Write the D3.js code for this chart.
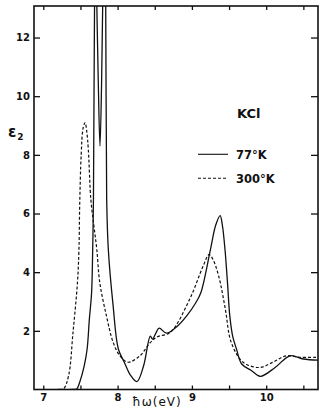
<!DOCTYPE html>
<html><head><meta charset="utf-8">
<script src="https://cdn.jsdelivr.net/npm/d3@7"></script>
<style>
html,body{margin:0;padding:0;background:#fff;}
svg{display:block;}
text{font-family:"DejaVu Sans",sans-serif;fill:#111;}
</style></head>
<body><svg id="chart" width="327" height="409"></svg>
<script>
// Data (77°K solid, 300°K dashed)
const solidX = [7.20,7.40,7.45,7.49,7.55,7.59,7.62,7.65,7.665,7.675,7.69,7.705,7.72,7.74,7.763,7.785,7.80,7.82,7.84,7.853,7.875,7.94,8.01,8.09,8.17,8.26,8.35,8.44,8.47,8.52,8.56,8.66,8.80,8.93,9.05,9.12,9.25,9.32,9.38,9.41,9.445,9.48,9.51,9.55,9.60,9.67,9.80,9.92,10.12,10.32,10.50,10.70];
const solidY = [0,0,0.02,0.25,0.8,1.38,2.4,3.3,4.8,6.5,13.2,16,13.2,10.5,8.3,10.5,13.2,16,13.2,6.5,4.78,2.85,1.38,0.93,0.5,0.27,0.81,1.82,1.72,1.95,2.09,1.92,2.15,2.51,2.95,3.3,4.78,5.6,5.93,5.6,4.78,3.6,2.51,1.8,1.38,0.87,0.65,0.45,0.75,1.15,1.04,1.0];
const dashX = [7.15,7.27,7.34,7.40,7.46,7.48,7.49,7.51,7.535,7.562,7.585,7.606,7.64,7.68,7.72,7.76,7.85,7.94,8.03,8.14,8.30,8.44,8.53,8.71,8.97,9.15,9.23,9.28,9.36,9.45,9.53,9.69,9.91,10.09,10.27,10.45,10.70];
const dashY = [0,0.02,0.47,1.95,3.65,4.78,6.3,8.0,8.9,9.1,8.8,8.18,6.48,5.6,4.78,3.65,2.51,1.61,1.15,0.93,1.15,1.6,1.79,1.95,3.08,4.2,4.6,4.45,3.87,2.74,1.6,0.93,0.75,0.93,1.15,1.1,1.1];
const yTicks = [2,4,6,8,10,12];
const xLabelTicks = [7,8,9,10];
const xMinorTicks = [7,7.5,8,8.5,9,9.5,10,10.5];
const legendLabels = ["77°K","300°K"];

const svg = d3.select("#chart");
const L=34, R=318, T=6, B=389.5;
const x = d3.scaleLinear().domain([6.875,10.697]).range([L,R]);
const y = d3.scaleLinear().domain([0,13.075]).range([B,T]);

svg.append("defs").append("clipPath").attr("id","clip")
  .append("rect").attr("x",L).attr("y",T).attr("width",R-L).attr("height",B-T);

const fmt = d => d3.format("d")(d);
const gB = svg.append("g").attr("transform",`translate(0,${B})`)
  .call(d3.axisBottom(x).tickValues(xMinorTicks).tickSize(-4).tickPadding(4)
    .tickFormat(d => xLabelTicks.includes(d) ? fmt(d) : ""));
const gT = svg.append("g").attr("transform",`translate(0,${T})`)
  .call(d3.axisTop(x).tickValues(xMinorTicks).tickSize(-4).tickFormat(""));
const gL = svg.append("g").attr("transform",`translate(${L},0)`)
  .call(d3.axisLeft(y).tickValues(yTicks).tickSize(-6).tickPadding(4).tickFormat(fmt));
const gR = svg.append("g").attr("transform",`translate(${R},0)`)
  .call(d3.axisRight(y).tickValues(yTicks).tickSize(-7).tickFormat(""));

[gB,gT,gL,gR].forEach(g=>{
  g.select(".domain").attr("stroke","#111").attr("stroke-width",1.6).attr("d", null);
  g.selectAll(".tick line").attr("stroke","#111").attr("stroke-width",1.3);
  g.selectAll(".tick text").attr("font-family","DejaVu Sans, sans-serif")
    .attr("font-weight","bold").attr("font-size",10).attr("fill","#111");
});
svg.append("rect").attr("x",L).attr("y",T).attr("width",R-L).attr("height",B-T)
  .attr("fill","none").attr("stroke","#111").attr("stroke-width",1.6);

const line = d3.line().x(d=>x(d[0])).y(d=>y(d[1])).curve(d3.curveCatmullRom.alpha(0.5));
const solid = solidX.map((v,i)=>[v,solidY[i]]);
const dash = dashX.map((v,i)=>[v,dashY[i]]);
const plot = svg.append("g").attr("clip-path","url(#clip)");
plot.append("path").attr("d",line(dash)).attr("fill","none").attr("stroke","#111")
  .attr("stroke-width",1.2).attr("stroke-dasharray","3,2");
plot.append("path").attr("d",line(solid)).attr("fill","none").attr("stroke","#111")
  .attr("stroke-width",1.3);

const eps = svg.append("text").attr("x",8).attr("y",137).attr("font-size",15).attr("font-weight","bold");
eps.append("tspan").text("ε");
eps.append("tspan").attr("font-size",9).attr("dy",3).attr("dx",1).text("2");
svg.append("text").attr("x",237).attr("y",118).attr("font-size",13).attr("font-weight","bold").text("KCl");
svg.append("text").attr("x",157).attr("y",406).attr("text-anchor","middle")
  .attr("font-size",12).attr("letter-spacing",1).text("ħω(eV)");

const lg = [{y:154.3,dash:null,label:legendLabels[0]},{y:178.3,dash:"3,2",label:legendLabels[1]}];
lg.forEach(d=>{
  svg.append("line").attr("x1",198).attr("x2",228).attr("y1",d.y).attr("y2",d.y)
    .attr("stroke","#111").attr("stroke-width",1.1).attr("stroke-dasharray",d.dash);
  svg.append("text").attr("x",236).attr("y",d.y+4.5).attr("font-size",11.5).attr("font-weight","bold").text(d.label);
});
</script></body></html>
